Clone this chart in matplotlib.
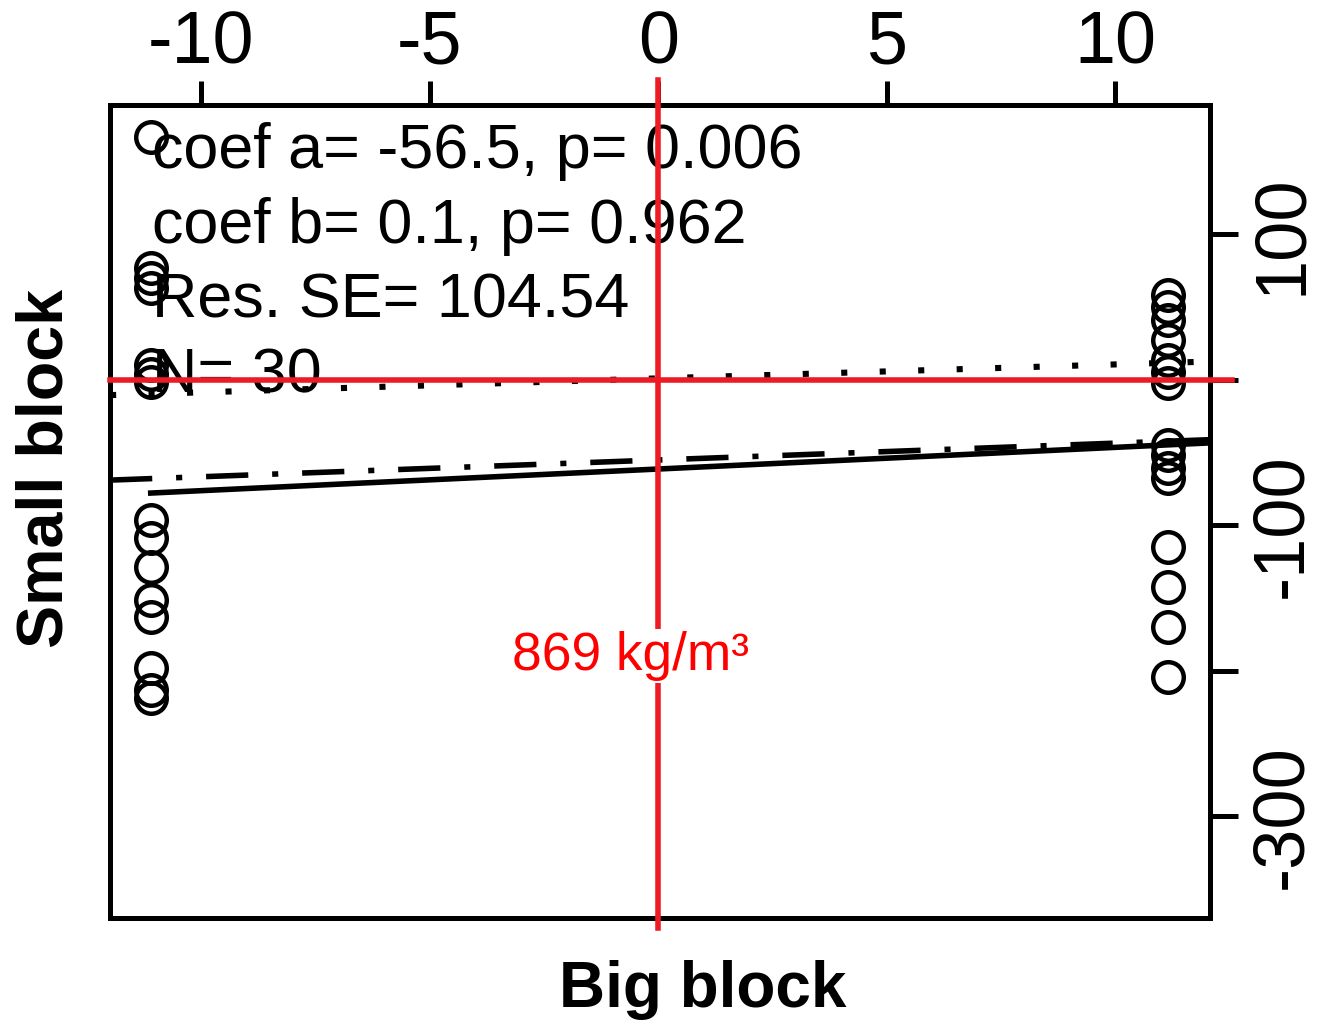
import matplotlib
matplotlib.use("Agg")
import matplotlib.pyplot as plt

plt.rcParams['font.family'] = ['Liberation Sans', 'DejaVu Sans']
plt.rcParams['axes.unicode_minus'] = False

# data
big_block = [-11.1] * 15 + [11.16] * 15
small_block = [166.8, 76.8, 70.0, 63.1, 10.2, 4.0, -1.5, -96.4, -108.7, -128.7,
               -151.4, -163.1, -198.1, -213.3, -218.8,
               58.3, 50.0, 41.0, 27.3, 13.5, 5.3, -2.2, -44.8, -51.7, -60.7,
               -67.6, -115.0, -142.3, -169.9, -204.2]

# fitted lines (end points)
fit_x = [-11.1, 12.08]
fit_y = [-77.8, -43.3]
alt_x = [-11.99, 12.08]
alt_y = [-68.9, -41.1]
one_x = [-11.99, 12.08]
one_y = [-10.5, 12.6]

stats = ["coef a= -56.5, p= 0.006",
         "coef b= 0.1, p= 0.962",
         "Res. SE= 104.54",
         "N= 30"]

xticks = [-10, -5, 0, 5, 10]
yticks = [100, 0, -100, -200, -300]
ytick_labels = ["100", "", "-100", "", "-300"]

ref_x = 0
ref_y = 0
ref_label = "869 kg/m³"

fig = plt.figure(figsize=(13.21, 10.21), dpi=100)
ax = fig.add_axes([0.0833, 0.1009, 0.8330, 0.7963])

ax.plot(big_block, small_block, 'o', ms=22, mfc='none', mec='black', mew=3.2, zorder=3)
ax.plot(fit_x, fit_y, '-', color='black', lw=4, zorder=2)
ax.plot(alt_x, alt_y, color='black', lw=4, ls=(0, (7.6, 4.3, 1.1, 4.3)), zorder=2)
ax.plot(one_x, one_y, color='black', lw=4.4, ls=(0, (1, 5.3)), zorder=2)

for i, s in enumerate(stats):
    ax.text(0.038, 0.9225 - 0.0922 * i, s, transform=ax.transAxes, fontsize=45.3,
            ha='left', va='baseline', zorder=4)

# red reference lines, drawn past the box
ax.plot([ref_x, ref_x], [-377, 206], color='#ed1c24', lw=4, clip_on=False, zorder=5)
ax.plot([-11.99, 12.56], [ref_y, ref_y], color='#ed1c24', lw=4, clip_on=False, zorder=5)
ax.text(-0.61, -199.4, ref_label, color='#ff0000', fontsize=38.3, ha='center', va='baseline',
        bbox=dict(facecolor='white', edgecolor='none', pad=1), zorder=6)

ax.set_xlim(-11.99, 12.08)
ax.set_ylim(-369.8, 188.9)

ax.xaxis.tick_top()
ax.yaxis.tick_right()
ax.set_xticks(xticks)
ax.set_xticklabels([str(t) for t in xticks])
ax.set_yticks(yticks)
ax.set_yticklabels(ytick_labels)
ax.tick_params(axis='x', length=17, width=3.6, labelsize=53, pad=2)
ax.tick_params(axis='y', length=20, width=3.6, labelsize=52, pad=8, labelrotation=90)
for lab in ax.get_yticklabels():
    lab.set_va('center')

for sp in ax.spines.values():
    sp.set_linewidth(3.6)

ax.set_xlabel("Big block", fontsize=46, fontweight='bold')
ax.xaxis.set_label_coords(0.539, -0.088)
ax.xaxis.label.set_va('center')
ax.set_ylabel("Small block", fontsize=46.5, fontweight='bold')
ax.yaxis.set_label_coords(-0.059, 0.5535)
ax.yaxis.label.set_va('center')

fig.savefig("out.png", dpi=100)
